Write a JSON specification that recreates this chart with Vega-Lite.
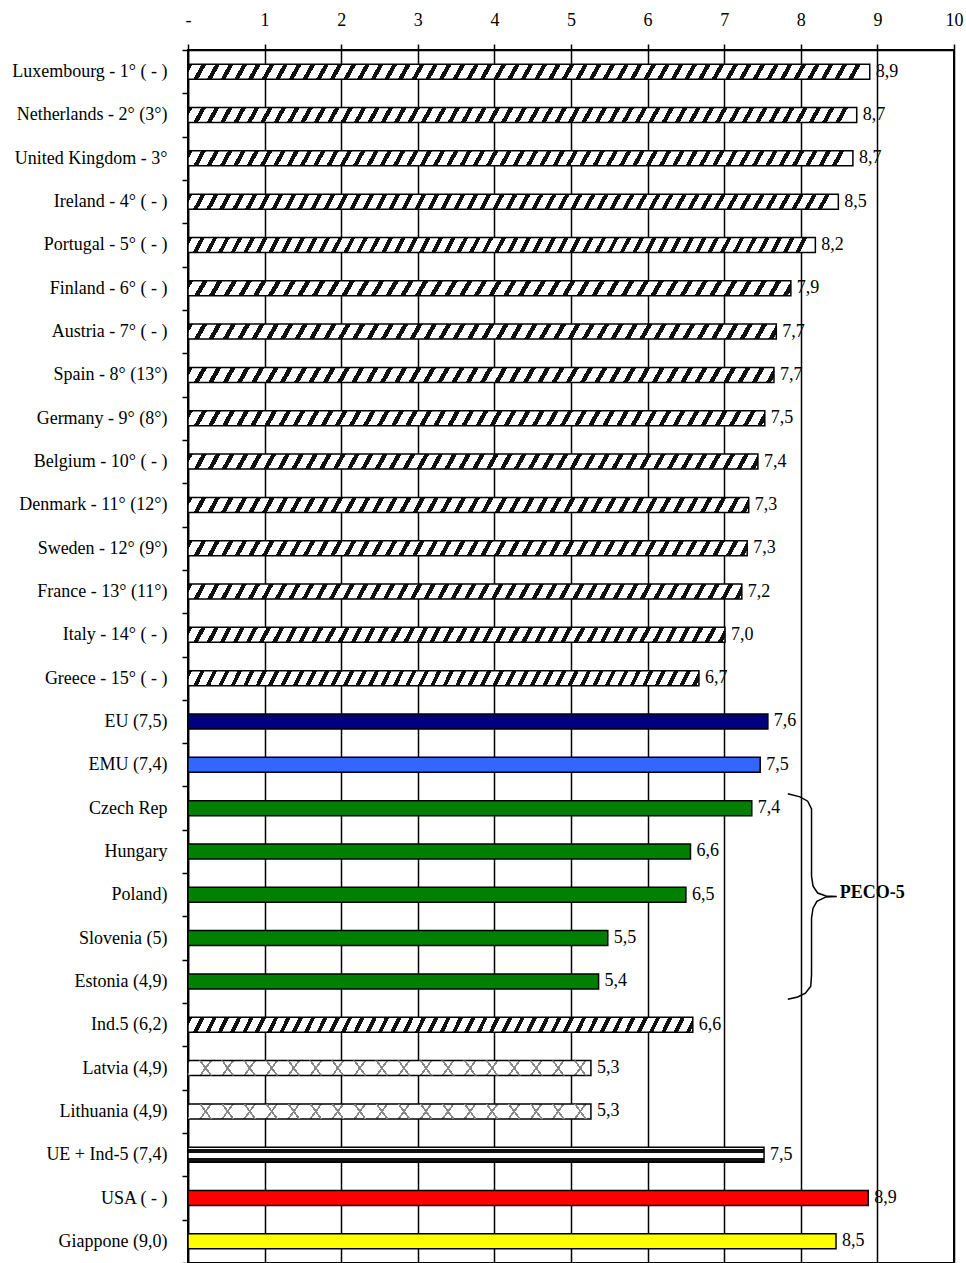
{
  "$schema": "https://vega.github.io/schema/vega-lite/v6.json",
  "width": 766,
  "height": 1213,
  "autosize": "none",
  "padding": {"left": 188, "top": 50, "right": 12, "bottom": 0},
  "background": "white",
  "config": {
    "locale": {"number": {"decimal": ",", "thousands": ".", "grouping": [3], "currency": ["", " €"]}},
    "view": {"stroke": "black", "strokeWidth": 2},
    "font": "Liberation Serif"
  },
  "datasets": {
    "scores": [
      {"country": "Luxembourg - 1° ( - )", "value": 8.9, "group": "EU-15"},
      {"country": "Netherlands - 2° (3°)", "value": 8.73, "group": "EU-15"},
      {"country": "United Kingdom - 3°", "value": 8.68, "group": "EU-15"},
      {"country": "Ireland - 4° ( - )", "value": 8.49, "group": "EU-15"},
      {"country": "Portugal - 5° ( - )", "value": 8.19, "group": "EU-15"},
      {"country": "Finland - 6° ( - )", "value": 7.87, "group": "EU-15"},
      {"country": "Austria - 7° ( - )", "value": 7.68, "group": "EU-15"},
      {"country": "Spain - 8° (13°)", "value": 7.65, "group": "EU-15"},
      {"country": "Germany - 9° (8°)", "value": 7.53, "group": "EU-15"},
      {"country": "Belgium - 10° ( - )", "value": 7.44, "group": "EU-15"},
      {"country": "Denmark - 11° (12°)", "value": 7.32, "group": "EU-15"},
      {"country": "Sweden - 12° (9°)", "value": 7.3, "group": "EU-15"},
      {"country": "France - 13° (11°)", "value": 7.23, "group": "EU-15"},
      {"country": "Italy - 14° ( - )", "value": 7.01, "group": "EU-15"},
      {"country": "Greece - 15° ( - )", "value": 6.67, "group": "EU-15"},
      {"country": "EU (7,5)", "value": 7.57, "group": "EU"},
      {"country": "EMU (7,4)", "value": 7.47, "group": "EMU"},
      {"country": "Czech Rep", "value": 7.36, "group": "PECO-5"},
      {"country": "Hungary", "value": 6.56, "group": "PECO-5"},
      {"country": "Poland)", "value": 6.5, "group": "PECO-5"},
      {"country": "Slovenia (5)", "value": 5.48, "group": "PECO-5"},
      {"country": "Estonia (4,9)", "value": 5.36, "group": "PECO-5"},
      {"country": "Ind.5 (6,2)", "value": 6.59, "group": "Ind.5"},
      {"country": "Latvia (4,9)", "value": 5.26, "group": "Baltic"},
      {"country": "Lithuania (4,9)", "value": 5.26, "group": "Baltic"},
      {"country": "UE + Ind-5 (7,4)", "value": 7.52, "group": "UE + Ind-5"},
      {"country": "USA ( - )", "value": 8.88, "group": "USA"},
      {"country": "Giappone (9,0)", "value": 8.46, "group": "Giappone"}
    ],
    "brace": [
      {"seq": 1, "value": 7.83, "row": 17.17},
      {"seq": 2, "value": 7.99, "row": 17.24},
      {"seq": 3, "value": 8.09, "row": 17.34},
      {"seq": 4, "value": 8.14, "row": 17.52},
      {"seq": 5, "value": 8.14, "row": 17.78},
      {"seq": 6, "value": 8.14, "row": 19.07},
      {"seq": 7, "value": 8.16, "row": 19.30},
      {"seq": 8, "value": 8.22, "row": 19.46},
      {"seq": 9, "value": 8.33, "row": 19.53},
      {"seq": 10, "value": 8.47, "row": 19.54},
      {"seq": 11, "value": 8.33, "row": 19.55},
      {"seq": 12, "value": 8.21, "row": 19.65},
      {"seq": 13, "value": 8.16, "row": 19.81},
      {"seq": 14, "value": 8.14, "row": 20.04},
      {"seq": 15, "value": 8.14, "row": 21.35},
      {"seq": 16, "value": 8.13, "row": 21.61},
      {"seq": 17, "value": 8.06, "row": 21.77},
      {"seq": 18, "value": 7.96, "row": 21.86},
      {"seq": 19, "value": 7.83, "row": 21.91}
    ],
    "note": [{"label": "PECO-5"}]
  },
  "layer": [
    {
      "data": {"name": "scores"},
      "encoding": {
        "y": {
          "field": "country", "type": "nominal", "sort": null,
          "scale": {"paddingInner": 0, "paddingOuter": 0},
          "axis": {"title": null, "tickBand": "extent", "tickSize": 6, "tickWidth": 1.5, "tickColor": "black", "domainColor": "black", "domainWidth": 1.5, "labelPadding": 15, "labelFont": "Liberation Serif", "labelFontSize": 18, "labelColor": "black", "labelLimit": 400, "grid": false}
        },
        "x": {
          "field": "value", "type": "quantitative",
          "scale": {"domain": [0, 10], "nice": false, "zero": true},
          "axis": {"orient": "top", "title": null, "values": [0, 1, 2, 3, 4, 5, 6, 7, 8, 9, 10], "format": "d", "labelExpr": "datum.value === 0 ? '-' : datum.label", "grid": true, "gridColor": "black", "gridWidth": 1.5, "gridOpacity": 1, "domainColor": "black", "domainWidth": 1.5, "tickColor": "black", "tickWidth": 1.5, "tickSize": 6, "labelPadding": 15, "labelFont": "Liberation Serif", "labelFontSize": 18, "labelColor": "black", "labelFlush": false, "labelOverlap": false}
        }
      },
      "layer": [
        {
          "mark": {"type": "bar", "size": 15, "stroke": "black", "strokeWidth": 1.5},
          "encoding": {
            "fill": {
              "condition": [
                {"test": "(datum.group === 'EU-15' || datum.group === 'Ind.5') && datum.value >= 8.15", "value": {"gradient": "linear", "x1": 0, "y1": 0, "x2": 1, "y2": 0.0122, "stops": [
{"offset":0,"color":"#111"},{"offset":0.007,"color":"#111"},{"offset":0.007,"color":"#fff"},{"offset":0.02,"color":"#fff"},
{"offset":0.02,"color":"#111"},{"offset":0.027,"color":"#111"},{"offset":0.027,"color":"#fff"},{"offset":0.04,"color":"#fff"},
{"offset":0.04,"color":"#111"},{"offset":0.047,"color":"#111"},{"offset":0.047,"color":"#fff"},{"offset":0.06,"color":"#fff"},
{"offset":0.06,"color":"#111"},{"offset":0.067,"color":"#111"},{"offset":0.067,"color":"#fff"},{"offset":0.08,"color":"#fff"},
{"offset":0.08,"color":"#111"},{"offset":0.087,"color":"#111"},{"offset":0.087,"color":"#fff"},{"offset":0.1,"color":"#fff"},
{"offset":0.1,"color":"#111"},{"offset":0.107,"color":"#111"},{"offset":0.107,"color":"#fff"},{"offset":0.12,"color":"#fff"},
{"offset":0.12,"color":"#111"},{"offset":0.127,"color":"#111"},{"offset":0.127,"color":"#fff"},{"offset":0.14,"color":"#fff"},
{"offset":0.14,"color":"#111"},{"offset":0.147,"color":"#111"},{"offset":0.147,"color":"#fff"},{"offset":0.16,"color":"#fff"},
{"offset":0.16,"color":"#111"},{"offset":0.167,"color":"#111"},{"offset":0.167,"color":"#fff"},{"offset":0.18,"color":"#fff"},
{"offset":0.18,"color":"#111"},{"offset":0.187,"color":"#111"},{"offset":0.187,"color":"#fff"},{"offset":0.2,"color":"#fff"},
{"offset":0.2,"color":"#111"},{"offset":0.207,"color":"#111"},{"offset":0.207,"color":"#fff"},{"offset":0.22,"color":"#fff"},
{"offset":0.22,"color":"#111"},{"offset":0.227,"color":"#111"},{"offset":0.227,"color":"#fff"},{"offset":0.24,"color":"#fff"},
{"offset":0.24,"color":"#111"},{"offset":0.247,"color":"#111"},{"offset":0.247,"color":"#fff"},{"offset":0.26,"color":"#fff"},
{"offset":0.26,"color":"#111"},{"offset":0.267,"color":"#111"},{"offset":0.267,"color":"#fff"},{"offset":0.28,"color":"#fff"},
{"offset":0.28,"color":"#111"},{"offset":0.287,"color":"#111"},{"offset":0.287,"color":"#fff"},{"offset":0.3,"color":"#fff"},
{"offset":0.3,"color":"#111"},{"offset":0.307,"color":"#111"},{"offset":0.307,"color":"#fff"},{"offset":0.32,"color":"#fff"},
{"offset":0.32,"color":"#111"},{"offset":0.327,"color":"#111"},{"offset":0.327,"color":"#fff"},{"offset":0.34,"color":"#fff"},
{"offset":0.34,"color":"#111"},{"offset":0.347,"color":"#111"},{"offset":0.347,"color":"#fff"},{"offset":0.36,"color":"#fff"},
{"offset":0.36,"color":"#111"},{"offset":0.367,"color":"#111"},{"offset":0.367,"color":"#fff"},{"offset":0.38,"color":"#fff"},
{"offset":0.38,"color":"#111"},{"offset":0.387,"color":"#111"},{"offset":0.387,"color":"#fff"},{"offset":0.4,"color":"#fff"},
{"offset":0.4,"color":"#111"},{"offset":0.407,"color":"#111"},{"offset":0.407,"color":"#fff"},{"offset":0.42,"color":"#fff"},
{"offset":0.42,"color":"#111"},{"offset":0.427,"color":"#111"},{"offset":0.427,"color":"#fff"},{"offset":0.44,"color":"#fff"},
{"offset":0.44,"color":"#111"},{"offset":0.447,"color":"#111"},{"offset":0.447,"color":"#fff"},{"offset":0.46,"color":"#fff"},
{"offset":0.46,"color":"#111"},{"offset":0.467,"color":"#111"},{"offset":0.467,"color":"#fff"},{"offset":0.48,"color":"#fff"},
{"offset":0.48,"color":"#111"},{"offset":0.487,"color":"#111"},{"offset":0.487,"color":"#fff"},{"offset":0.5,"color":"#fff"},
{"offset":0.5,"color":"#111"},{"offset":0.507,"color":"#111"},{"offset":0.507,"color":"#fff"},{"offset":0.52,"color":"#fff"},
{"offset":0.52,"color":"#111"},{"offset":0.527,"color":"#111"},{"offset":0.527,"color":"#fff"},{"offset":0.54,"color":"#fff"},
{"offset":0.54,"color":"#111"},{"offset":0.547,"color":"#111"},{"offset":0.547,"color":"#fff"},{"offset":0.56,"color":"#fff"},
{"offset":0.56,"color":"#111"},{"offset":0.567,"color":"#111"},{"offset":0.567,"color":"#fff"},{"offset":0.58,"color":"#fff"},
{"offset":0.58,"color":"#111"},{"offset":0.587,"color":"#111"},{"offset":0.587,"color":"#fff"},{"offset":0.6,"color":"#fff"},
{"offset":0.6,"color":"#111"},{"offset":0.607,"color":"#111"},{"offset":0.607,"color":"#fff"},{"offset":0.62,"color":"#fff"},
{"offset":0.62,"color":"#111"},{"offset":0.627,"color":"#111"},{"offset":0.627,"color":"#fff"},{"offset":0.64,"color":"#fff"},
{"offset":0.64,"color":"#111"},{"offset":0.647,"color":"#111"},{"offset":0.647,"color":"#fff"},{"offset":0.66,"color":"#fff"},
{"offset":0.66,"color":"#111"},{"offset":0.667,"color":"#111"},{"offset":0.667,"color":"#fff"},{"offset":0.68,"color":"#fff"},
{"offset":0.68,"color":"#111"},{"offset":0.687,"color":"#111"},{"offset":0.687,"color":"#fff"},{"offset":0.7,"color":"#fff"},
{"offset":0.7,"color":"#111"},{"offset":0.707,"color":"#111"},{"offset":0.707,"color":"#fff"},{"offset":0.72,"color":"#fff"},
{"offset":0.72,"color":"#111"},{"offset":0.727,"color":"#111"},{"offset":0.727,"color":"#fff"},{"offset":0.74,"color":"#fff"},
{"offset":0.74,"color":"#111"},{"offset":0.747,"color":"#111"},{"offset":0.747,"color":"#fff"},{"offset":0.76,"color":"#fff"},
{"offset":0.76,"color":"#111"},{"offset":0.767,"color":"#111"},{"offset":0.767,"color":"#fff"},{"offset":0.78,"color":"#fff"},
{"offset":0.78,"color":"#111"},{"offset":0.787,"color":"#111"},{"offset":0.787,"color":"#fff"},{"offset":0.8,"color":"#fff"},
{"offset":0.8,"color":"#111"},{"offset":0.807,"color":"#111"},{"offset":0.807,"color":"#fff"},{"offset":0.82,"color":"#fff"},
{"offset":0.82,"color":"#111"},{"offset":0.827,"color":"#111"},{"offset":0.827,"color":"#fff"},{"offset":0.84,"color":"#fff"},
{"offset":0.84,"color":"#111"},{"offset":0.847,"color":"#111"},{"offset":0.847,"color":"#fff"},{"offset":0.86,"color":"#fff"},
{"offset":0.86,"color":"#111"},{"offset":0.867,"color":"#111"},{"offset":0.867,"color":"#fff"},{"offset":0.88,"color":"#fff"},
{"offset":0.88,"color":"#111"},{"offset":0.887,"color":"#111"},{"offset":0.887,"color":"#fff"},{"offset":0.9,"color":"#fff"},
{"offset":0.9,"color":"#111"},{"offset":0.907,"color":"#111"},{"offset":0.907,"color":"#fff"},{"offset":0.92,"color":"#fff"},
{"offset":0.92,"color":"#111"},{"offset":0.927,"color":"#111"},{"offset":0.927,"color":"#fff"},{"offset":0.94,"color":"#fff"},
{"offset":0.94,"color":"#111"},{"offset":0.947,"color":"#111"},{"offset":0.947,"color":"#fff"},{"offset":0.96,"color":"#fff"},
{"offset":0.96,"color":"#111"},{"offset":0.967,"color":"#111"},{"offset":0.967,"color":"#fff"},{"offset":0.98,"color":"#fff"},
{"offset":0.98,"color":"#111"},{"offset":0.987,"color":"#111"},{"offset":0.987,"color":"#fff"},{"offset":1,"color":"#fff"}
                ]}},
                {"test": "datum.group === 'EU-15' || datum.group === 'Ind.5'", "value": {"gradient": "linear", "x1": 0, "y1": 0, "x2": 1.22, "y2": 0.0176, "stops": [
{"offset":0,"color":"#111"},{"offset":0.007,"color":"#111"},{"offset":0.007,"color":"#fff"},{"offset":0.02,"color":"#fff"},
{"offset":0.02,"color":"#111"},{"offset":0.027,"color":"#111"},{"offset":0.027,"color":"#fff"},{"offset":0.04,"color":"#fff"},
{"offset":0.04,"color":"#111"},{"offset":0.047,"color":"#111"},{"offset":0.047,"color":"#fff"},{"offset":0.06,"color":"#fff"},
{"offset":0.06,"color":"#111"},{"offset":0.067,"color":"#111"},{"offset":0.067,"color":"#fff"},{"offset":0.08,"color":"#fff"},
{"offset":0.08,"color":"#111"},{"offset":0.087,"color":"#111"},{"offset":0.087,"color":"#fff"},{"offset":0.1,"color":"#fff"},
{"offset":0.1,"color":"#111"},{"offset":0.107,"color":"#111"},{"offset":0.107,"color":"#fff"},{"offset":0.12,"color":"#fff"},
{"offset":0.12,"color":"#111"},{"offset":0.127,"color":"#111"},{"offset":0.127,"color":"#fff"},{"offset":0.14,"color":"#fff"},
{"offset":0.14,"color":"#111"},{"offset":0.147,"color":"#111"},{"offset":0.147,"color":"#fff"},{"offset":0.16,"color":"#fff"},
{"offset":0.16,"color":"#111"},{"offset":0.167,"color":"#111"},{"offset":0.167,"color":"#fff"},{"offset":0.18,"color":"#fff"},
{"offset":0.18,"color":"#111"},{"offset":0.187,"color":"#111"},{"offset":0.187,"color":"#fff"},{"offset":0.2,"color":"#fff"},
{"offset":0.2,"color":"#111"},{"offset":0.207,"color":"#111"},{"offset":0.207,"color":"#fff"},{"offset":0.22,"color":"#fff"},
{"offset":0.22,"color":"#111"},{"offset":0.227,"color":"#111"},{"offset":0.227,"color":"#fff"},{"offset":0.24,"color":"#fff"},
{"offset":0.24,"color":"#111"},{"offset":0.247,"color":"#111"},{"offset":0.247,"color":"#fff"},{"offset":0.26,"color":"#fff"},
{"offset":0.26,"color":"#111"},{"offset":0.267,"color":"#111"},{"offset":0.267,"color":"#fff"},{"offset":0.28,"color":"#fff"},
{"offset":0.28,"color":"#111"},{"offset":0.287,"color":"#111"},{"offset":0.287,"color":"#fff"},{"offset":0.3,"color":"#fff"},
{"offset":0.3,"color":"#111"},{"offset":0.307,"color":"#111"},{"offset":0.307,"color":"#fff"},{"offset":0.32,"color":"#fff"},
{"offset":0.32,"color":"#111"},{"offset":0.327,"color":"#111"},{"offset":0.327,"color":"#fff"},{"offset":0.34,"color":"#fff"},
{"offset":0.34,"color":"#111"},{"offset":0.347,"color":"#111"},{"offset":0.347,"color":"#fff"},{"offset":0.36,"color":"#fff"},
{"offset":0.36,"color":"#111"},{"offset":0.367,"color":"#111"},{"offset":0.367,"color":"#fff"},{"offset":0.38,"color":"#fff"},
{"offset":0.38,"color":"#111"},{"offset":0.387,"color":"#111"},{"offset":0.387,"color":"#fff"},{"offset":0.4,"color":"#fff"},
{"offset":0.4,"color":"#111"},{"offset":0.407,"color":"#111"},{"offset":0.407,"color":"#fff"},{"offset":0.42,"color":"#fff"},
{"offset":0.42,"color":"#111"},{"offset":0.427,"color":"#111"},{"offset":0.427,"color":"#fff"},{"offset":0.44,"color":"#fff"},
{"offset":0.44,"color":"#111"},{"offset":0.447,"color":"#111"},{"offset":0.447,"color":"#fff"},{"offset":0.46,"color":"#fff"},
{"offset":0.46,"color":"#111"},{"offset":0.467,"color":"#111"},{"offset":0.467,"color":"#fff"},{"offset":0.48,"color":"#fff"},
{"offset":0.48,"color":"#111"},{"offset":0.487,"color":"#111"},{"offset":0.487,"color":"#fff"},{"offset":0.5,"color":"#fff"},
{"offset":0.5,"color":"#111"},{"offset":0.507,"color":"#111"},{"offset":0.507,"color":"#fff"},{"offset":0.52,"color":"#fff"},
{"offset":0.52,"color":"#111"},{"offset":0.527,"color":"#111"},{"offset":0.527,"color":"#fff"},{"offset":0.54,"color":"#fff"},
{"offset":0.54,"color":"#111"},{"offset":0.547,"color":"#111"},{"offset":0.547,"color":"#fff"},{"offset":0.56,"color":"#fff"},
{"offset":0.56,"color":"#111"},{"offset":0.567,"color":"#111"},{"offset":0.567,"color":"#fff"},{"offset":0.58,"color":"#fff"},
{"offset":0.58,"color":"#111"},{"offset":0.587,"color":"#111"},{"offset":0.587,"color":"#fff"},{"offset":0.6,"color":"#fff"},
{"offset":0.6,"color":"#111"},{"offset":0.607,"color":"#111"},{"offset":0.607,"color":"#fff"},{"offset":0.62,"color":"#fff"},
{"offset":0.62,"color":"#111"},{"offset":0.627,"color":"#111"},{"offset":0.627,"color":"#fff"},{"offset":0.64,"color":"#fff"},
{"offset":0.64,"color":"#111"},{"offset":0.647,"color":"#111"},{"offset":0.647,"color":"#fff"},{"offset":0.66,"color":"#fff"},
{"offset":0.66,"color":"#111"},{"offset":0.667,"color":"#111"},{"offset":0.667,"color":"#fff"},{"offset":0.68,"color":"#fff"},
{"offset":0.68,"color":"#111"},{"offset":0.687,"color":"#111"},{"offset":0.687,"color":"#fff"},{"offset":0.7,"color":"#fff"},
{"offset":0.7,"color":"#111"},{"offset":0.707,"color":"#111"},{"offset":0.707,"color":"#fff"},{"offset":0.72,"color":"#fff"},
{"offset":0.72,"color":"#111"},{"offset":0.727,"color":"#111"},{"offset":0.727,"color":"#fff"},{"offset":0.74,"color":"#fff"},
{"offset":0.74,"color":"#111"},{"offset":0.747,"color":"#111"},{"offset":0.747,"color":"#fff"},{"offset":0.76,"color":"#fff"},
{"offset":0.76,"color":"#111"},{"offset":0.767,"color":"#111"},{"offset":0.767,"color":"#fff"},{"offset":0.78,"color":"#fff"},
{"offset":0.78,"color":"#111"},{"offset":0.787,"color":"#111"},{"offset":0.787,"color":"#fff"},{"offset":0.8,"color":"#fff"},
{"offset":0.8,"color":"#111"},{"offset":0.807,"color":"#111"},{"offset":0.807,"color":"#fff"},{"offset":0.82,"color":"#fff"},
{"offset":0.82,"color":"#111"},{"offset":0.827,"color":"#111"},{"offset":0.827,"color":"#fff"},{"offset":1,"color":"#fff"}
                ]}},
                {"test": "datum.group === 'Baltic'", "value": {"gradient": "linear", "x1": 0, "y1": 0, "x2": 1.093, "y2": 0.0298, "stops": [
{"offset":0,"color":"#888"},{"offset":0.005,"color":"#888"},{"offset":0.005,"color":"#fff"},{"offset":0.05,"color":"#fff"},
{"offset":0.05,"color":"#888"},{"offset":0.055,"color":"#888"},{"offset":0.055,"color":"#fff"},{"offset":0.1,"color":"#fff"},
{"offset":0.1,"color":"#888"},{"offset":0.105,"color":"#888"},{"offset":0.105,"color":"#fff"},{"offset":0.15,"color":"#fff"},
{"offset":0.15,"color":"#888"},{"offset":0.155,"color":"#888"},{"offset":0.155,"color":"#fff"},{"offset":0.2,"color":"#fff"},
{"offset":0.2,"color":"#888"},{"offset":0.205,"color":"#888"},{"offset":0.205,"color":"#fff"},{"offset":0.25,"color":"#fff"},
{"offset":0.25,"color":"#888"},{"offset":0.255,"color":"#888"},{"offset":0.255,"color":"#fff"},{"offset":0.3,"color":"#fff"},
{"offset":0.3,"color":"#888"},{"offset":0.305,"color":"#888"},{"offset":0.305,"color":"#fff"},{"offset":0.35,"color":"#fff"},
{"offset":0.35,"color":"#888"},{"offset":0.355,"color":"#888"},{"offset":0.355,"color":"#fff"},{"offset":0.4,"color":"#fff"},
{"offset":0.4,"color":"#888"},{"offset":0.405,"color":"#888"},{"offset":0.405,"color":"#fff"},{"offset":0.45,"color":"#fff"},
{"offset":0.45,"color":"#888"},{"offset":0.455,"color":"#888"},{"offset":0.455,"color":"#fff"},{"offset":0.5,"color":"#fff"},
{"offset":0.5,"color":"#888"},{"offset":0.505,"color":"#888"},{"offset":0.505,"color":"#fff"},{"offset":0.55,"color":"#fff"},
{"offset":0.55,"color":"#888"},{"offset":0.555,"color":"#888"},{"offset":0.555,"color":"#fff"},{"offset":0.6,"color":"#fff"},
{"offset":0.6,"color":"#888"},{"offset":0.605,"color":"#888"},{"offset":0.605,"color":"#fff"},{"offset":0.65,"color":"#fff"},
{"offset":0.65,"color":"#888"},{"offset":0.655,"color":"#888"},{"offset":0.655,"color":"#fff"},{"offset":0.7,"color":"#fff"},
{"offset":0.7,"color":"#888"},{"offset":0.705,"color":"#888"},{"offset":0.705,"color":"#fff"},{"offset":0.75,"color":"#fff"},
{"offset":0.75,"color":"#888"},{"offset":0.755,"color":"#888"},{"offset":0.755,"color":"#fff"},{"offset":0.8,"color":"#fff"},
{"offset":0.8,"color":"#888"},{"offset":0.805,"color":"#888"},{"offset":0.805,"color":"#fff"},{"offset":0.85,"color":"#fff"},
{"offset":0.85,"color":"#888"},{"offset":0.855,"color":"#888"},{"offset":0.855,"color":"#fff"},{"offset":0.9,"color":"#fff"},
{"offset":0.9,"color":"#888"},{"offset":0.905,"color":"#888"},{"offset":0.905,"color":"#fff"},{"offset":0.95,"color":"#fff"},
{"offset":0.95,"color":"#888"},{"offset":0.955,"color":"#888"},{"offset":0.955,"color":"#fff"},{"offset":1,"color":"#fff"}
                ]}},
                {"test": "datum.group === 'UE + Ind-5'", "value": {"gradient": "linear", "x1": 0, "y1": 0, "x2": 0, "y2": 1, "stops": [
{"offset":0,"color":"#fff"},{"offset":0.1,"color":"#fff"},{"offset":0.1,"color":"#111"},{"offset":0.42,"color":"#111"},
{"offset":0.42,"color":"#fff"},{"offset":0.7,"color":"#fff"},{"offset":0.7,"color":"#111"},{"offset":1,"color":"#111"}
                ]}},
                {"test": "datum.group === 'EU'", "value": "#000080"},
                {"test": "datum.group === 'EMU'", "value": "#3366FF"},
                {"test": "datum.group === 'PECO-5'", "value": "#008000"},
                {"test": "datum.group === 'USA'", "value": "#FF0000"}
              ],
              "value": "#FFFF00"
            }
          }
        },
        {
          "mark": {"type": "bar", "size": 15, "strokeWidth": 0},
          "encoding": {
            "fill": {
              "condition": {"test": "datum.group === 'Baltic'", "value": {"gradient": "linear", "x1": 0, "y1": 1, "x2": 1.093, "y2": 0.9702, "stops": [
{"offset":0,"color":"#888"},{"offset":0.005,"color":"#888"},{"offset":0.005,"color":"rgba(255,255,255,0)"},{"offset":0.05,"color":"rgba(255,255,255,0)"},
{"offset":0.05,"color":"#888"},{"offset":0.055,"color":"#888"},{"offset":0.055,"color":"rgba(255,255,255,0)"},{"offset":0.1,"color":"rgba(255,255,255,0)"},
{"offset":0.1,"color":"#888"},{"offset":0.105,"color":"#888"},{"offset":0.105,"color":"rgba(255,255,255,0)"},{"offset":0.15,"color":"rgba(255,255,255,0)"},
{"offset":0.15,"color":"#888"},{"offset":0.155,"color":"#888"},{"offset":0.155,"color":"rgba(255,255,255,0)"},{"offset":0.2,"color":"rgba(255,255,255,0)"},
{"offset":0.2,"color":"#888"},{"offset":0.205,"color":"#888"},{"offset":0.205,"color":"rgba(255,255,255,0)"},{"offset":0.25,"color":"rgba(255,255,255,0)"},
{"offset":0.25,"color":"#888"},{"offset":0.255,"color":"#888"},{"offset":0.255,"color":"rgba(255,255,255,0)"},{"offset":0.3,"color":"rgba(255,255,255,0)"},
{"offset":0.3,"color":"#888"},{"offset":0.305,"color":"#888"},{"offset":0.305,"color":"rgba(255,255,255,0)"},{"offset":0.35,"color":"rgba(255,255,255,0)"},
{"offset":0.35,"color":"#888"},{"offset":0.355,"color":"#888"},{"offset":0.355,"color":"rgba(255,255,255,0)"},{"offset":0.4,"color":"rgba(255,255,255,0)"},
{"offset":0.4,"color":"#888"},{"offset":0.405,"color":"#888"},{"offset":0.405,"color":"rgba(255,255,255,0)"},{"offset":0.45,"color":"rgba(255,255,255,0)"},
{"offset":0.45,"color":"#888"},{"offset":0.455,"color":"#888"},{"offset":0.455,"color":"rgba(255,255,255,0)"},{"offset":0.5,"color":"rgba(255,255,255,0)"},
{"offset":0.5,"color":"#888"},{"offset":0.505,"color":"#888"},{"offset":0.505,"color":"rgba(255,255,255,0)"},{"offset":0.55,"color":"rgba(255,255,255,0)"},
{"offset":0.55,"color":"#888"},{"offset":0.555,"color":"#888"},{"offset":0.555,"color":"rgba(255,255,255,0)"},{"offset":0.6,"color":"rgba(255,255,255,0)"},
{"offset":0.6,"color":"#888"},{"offset":0.605,"color":"#888"},{"offset":0.605,"color":"rgba(255,255,255,0)"},{"offset":0.65,"color":"rgba(255,255,255,0)"},
{"offset":0.65,"color":"#888"},{"offset":0.655,"color":"#888"},{"offset":0.655,"color":"rgba(255,255,255,0)"},{"offset":0.7,"color":"rgba(255,255,255,0)"},
{"offset":0.7,"color":"#888"},{"offset":0.705,"color":"#888"},{"offset":0.705,"color":"rgba(255,255,255,0)"},{"offset":0.75,"color":"rgba(255,255,255,0)"},
{"offset":0.75,"color":"#888"},{"offset":0.755,"color":"#888"},{"offset":0.755,"color":"rgba(255,255,255,0)"},{"offset":0.8,"color":"rgba(255,255,255,0)"},
{"offset":0.8,"color":"#888"},{"offset":0.805,"color":"#888"},{"offset":0.805,"color":"rgba(255,255,255,0)"},{"offset":0.85,"color":"rgba(255,255,255,0)"},
{"offset":0.85,"color":"#888"},{"offset":0.855,"color":"#888"},{"offset":0.855,"color":"rgba(255,255,255,0)"},{"offset":0.9,"color":"rgba(255,255,255,0)"},
{"offset":0.9,"color":"#888"},{"offset":0.905,"color":"#888"},{"offset":0.905,"color":"rgba(255,255,255,0)"},{"offset":0.95,"color":"rgba(255,255,255,0)"},
{"offset":0.95,"color":"#888"},{"offset":0.955,"color":"#888"},{"offset":0.955,"color":"rgba(255,255,255,0)"},{"offset":1,"color":"rgba(255,255,255,0)"}
              ]}},
              "value": "transparent"
            }
          }
        },
        {
          "mark": {"type": "text", "align": "left", "baseline": "middle", "dx": 6, "font": "Liberation Serif", "fontSize": 18, "color": "black"},
          "encoding": {"text": {"field": "value", "type": "quantitative", "format": ".1f"}}
        }
      ]
    },
    {
      "data": {"name": "brace"},
      "mark": {"type": "line", "color": "black", "strokeWidth": 1.5, "interpolate": "linear"},
      "encoding": {
        "x": {"field": "value", "type": "quantitative", "scale": {"domain": [0, 10], "nice": false}},
        "y": {"field": "row", "type": "quantitative", "scale": {"domain": [0, 28], "reverse": true, "nice": false, "zero": false}, "axis": null},
        "order": {"field": "seq", "type": "quantitative"}
      }
    },
    {
      "data": {"name": "note"},
      "mark": {"type": "text", "align": "left", "baseline": "middle", "font": "Liberation Serif", "fontSize": 18, "fontWeight": "bold", "color": "black"},
      "encoding": {
        "x": {"datum": 8.51, "type": "quantitative", "scale": {"domain": [0, 10], "nice": false}},
        "y": {"datum": 19.46, "type": "quantitative", "scale": {"domain": [0, 28], "reverse": true, "nice": false, "zero": false}, "axis": null},
        "text": {"field": "label", "type": "nominal"}
      }
    }
  ],
  "resolve": {"scale": {"y": "independent"}}
}
